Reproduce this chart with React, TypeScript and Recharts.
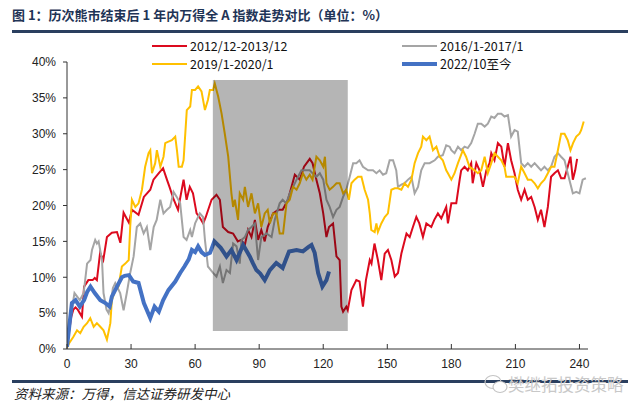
import React from "react";
import { LineChart, Line, XAxis, YAxis, ReferenceArea, Legend } from "recharts";

type Pt = [number, number];

// trading days since the bear-market low, cumulative return in %
const xTicks = [0, 30, 60, 90, 120, 150, 180, 210, 240];
const yTicks = [0, 5, 10, 15, 20, 25, 30, 35, 40];

const red2012: Pt[] = [
  [0, 0.3], [1, 2.5], [2, 4.5], [3, 5.5], [4, 5.8], [5, 5.5], [6, 5.0], [7, 4.5], [8, 8.7], [10, 9.6],
  [12, 9.6], [13, 9.9], [14, 9.6], [15.5, 13.4], [17, 12.4], [18.7, 15.6], [21, 16.2], [23.4, 16.3], [25, 14.8], [26.5, 19.0],
  [29, 17.6], [30.4, 19.4], [33.5, 18.7], [36, 21.2], [39, 22.2], [40.5, 23.6], [43, 24.5], [45, 25.2], [46.8, 23.6], [48, 22.6],
  [50, 20.8], [52, 19.4], [54.6, 23.6], [56, 20.8], [57.5, 22.6], [59, 21.7], [60.7, 18.9], [62, 18.4], [63.8, 17.5], [65, 18.4],
  [67.7, 20.8], [70, 21.5], [71.6, 20.8], [73, 17.0], [75.5, 16.3], [77.8, 16.1], [80, 15.0], [81.5, 15.2], [83.3, 14.5], [84.8, 16.6],
  [86.4, 15.6], [88, 18.0], [89.5, 15.2], [91, 16.6], [92.6, 15.0], [94, 17.0], [96.5, 18.9], [99, 19.4], [101, 19.4], [103.5, 20.8],
  [106.7, 24.3], [109, 23.6], [111, 25.4], [113.7, 26.5], [115, 25.9], [116.8, 23.6], [118.4, 21.7], [120, 18.9], [121.5, 15.6], [122.7, 17.0],
  [124.6, 17.5], [126.2, 12.9], [127.7, 12.4], [128.5, 5.9], [129.3, 5.2], [130.8, 5.9], [131.5, 5.4], [133.2, 8.2], [135.5, 9.6], [137, 9.4],
  [138.6, 5.9], [140, 9.6], [141.8, 12.4], [142.6, 11.9], [144, 14.7], [145.6, 12.4], [147.2, 9.6], [148.8, 13.3], [150.3, 13.8], [151.9, 12.4],
  [153.5, 10.1], [155, 10.6], [156.6, 13.3], [159, 16.1], [160.5, 15.6], [162, 17.0], [163.6, 18.4], [165, 17.5], [166.7, 15.6], [168.3, 17.5],
  [170.6, 17.0], [172, 18.0], [173.7, 18.9], [175.3, 18.2], [177.6, 19.8], [178.4, 17.5], [180, 20.3], [182.3, 20.3], [183.9, 23.6], [184.6, 24.9],
  [186.2, 25.4], [187.7, 24.9], [189.3, 25.9], [190, 23.1], [191.7, 25.9], [193.2, 24.9], [194.8, 22.6], [196.4, 24.9], [197.9, 25.9], [198.7, 27.3],
  [200.2, 26.3], [201.8, 28.7], [203.4, 28.2], [204.9, 25.4], [206.5, 28.7], [208, 26.3], [209.6, 24.5], [211.1, 22.2], [212.7, 20.8], [214.3, 22.2],
  [215.8, 20.8], [217.4, 21.2], [219, 19.8], [220.5, 18.0], [222, 19.4], [223.6, 17.0], [225.2, 19.8], [226.7, 24.0], [228.3, 24.5], [229.9, 24.9],
  [231.4, 23.8], [233, 23.8], [234.5, 25.4], [235.8, 26.8], [236.9, 23.6], [238, 24.9], [238.9, 26.5],
];

const gray2016: Pt[] = [
  [0, 0.5], [1, 3.1], [2, 5.0], [3.5, 7.8], [6, 6.8], [7.8, 7.8], [9.4, 11.9], [11, 12.4], [11.7, 13.8], [13.2, 15.2],
  [14, 14.7], [14.8, 15.0], [16.4, 12.4], [17.1, 7.8], [18.5, 5.5], [19.5, 5.0], [20.5, 6.5], [21.5, 8.5], [22.6, 9.2], [24.9, 7.8],
  [26.5, 5.4], [28, 7.8], [29.6, 10.6], [31.2, 12.9], [32.7, 17.0], [34.3, 17.5], [35.9, 16.1], [37.4, 17.0], [39, 13.8], [40.6, 17.0],
  [42, 18.0], [43.7, 20.8], [45.2, 18.9], [46.8, 19.4], [48.3, 19.8], [49.9, 21.9], [51.4, 21.2], [53, 20.3], [54.6, 15.6], [56, 15.2],
  [57.7, 16.6], [58.5, 15.6], [60, 17.5], [62.2, 18.9], [63.7, 18.4], [64.6, 15.2], [66, 11.5], [68.4, 10.6], [70, 10.1], [71.6, 11.5],
  [73, 9.2], [74.7, 11.0], [76.3, 10.6], [77.8, 14.7], [79.4, 14.3], [80.9, 11.9], [81.7, 15.2], [83.3, 15.6], [84.8, 16.6], [86.4, 17.0],
  [88, 17.5], [89.5, 12.4], [91, 15.6], [93.4, 16.1], [95.8, 15.6], [97.3, 18.0], [99.6, 20.3], [101, 20.8], [102.7, 20.3], [104.3, 21.7],
  [105.9, 22.6], [107.5, 23.6], [109.8, 24.9], [112.1, 24.9], [113.7, 24.9], [115, 24.5], [116.8, 24.0], [118.4, 24.5], [120, 23.6], [121.5, 20.8],
  [123, 19.8], [124.6, 18.4], [126.2, 19.4], [127.7, 19.8], [129.3, 21.2], [130.8, 22.2], [132.4, 24.0], [134, 25.9], [135.5, 25.9], [137, 26.3],
  [138.6, 25.4], [141, 24.9], [143.3, 24.9], [144.9, 24.5], [146.4, 24.9], [148, 24.3], [149.5, 24.5], [151.1, 26.3], [152.7, 26.3], [154.2, 24.9],
  [155, 22.6], [156.6, 22.9], [158.1, 23.1], [159.7, 23.6], [161.3, 24.0], [162.8, 21.7], [164.4, 22.6], [165.9, 24.9], [167.5, 25.9], [169.8, 25.9],
  [172.2, 26.3], [173.7, 26.8], [176, 27.0], [177.6, 28.4], [179.2, 28.2], [180, 27.7], [181.5, 27.3], [183.1, 28.2], [184.6, 27.7], [186.2, 28.2],
  [187.7, 28.0], [189.3, 28.7], [190.9, 30.0], [192.4, 31.4], [194, 31.4], [195.6, 31.0], [197.1, 31.4], [198.7, 32.4], [200.2, 32.2], [201.8, 32.8],
  [203.4, 32.8], [204.9, 32.4], [206.5, 32.6], [208, 29.6], [209.6, 30.5], [211.1, 30.3], [212.7, 25.9], [214.3, 25.4], [215.8, 25.9], [217.4, 25.4],
  [219, 25.9], [220.5, 25.4], [222, 24.9], [223.6, 25.4], [225.2, 24.9], [226.7, 25.4], [228.3, 26.8], [229.9, 27.3], [231.4, 26.8], [233, 26.3],
  [234.5, 24.5], [236.9, 21.7], [238.5, 21.9], [240, 21.7], [241.5, 23.6], [243, 23.8],
];

const gold2019: Pt[] = [
  [0, 0.2], [1, 0.8], [3, 1.7], [4.7, 2.6], [6.2, 2.2], [7.8, 3.1], [9.4, 3.6], [10.9, 4.3], [12.5, 3.1], [14, 3.6],
  [15.6, 3.1], [17.1, 2.6], [18.7, 1.3], [20.3, 3.6], [21, 6.8], [22.6, 8.2], [24.1, 8.7], [25.7, 11.5], [27.3, 11.9], [28.9, 12.4],
  [29.6, 17.0], [30.4, 20.8], [32, 19.8], [33.5, 20.3], [35.1, 22.2], [36.6, 25.4], [38.2, 27.3], [39, 27.7], [39.8, 24.5], [41.3, 25.9],
  [42.1, 27.7], [43.7, 25.4], [45.2, 26.8], [46, 28.7], [47.5, 28.9], [49.1, 29.1], [50.7, 29.6], [51.5, 27.7], [52.3, 25.4], [53.8, 25.4],
  [54.6, 26.3], [56.1, 33.3], [57.7, 33.8], [58.5, 36.1], [60, 36.1], [61.4, 36.6], [63, 35.9], [64.6, 33.3], [66, 34.7], [66.9, 36.1],
  [68.4, 36.1], [69.2, 37.0], [70.8, 35.2], [72.4, 32.8], [73.9, 30.0], [75.5, 26.8], [77, 21.7], [77.8, 19.8], [78.6, 20.8], [80.1, 18.0],
  [80.9, 21.7], [82.5, 20.8], [83.3, 22.6], [84.8, 19.8], [86.4, 21.7], [88, 18.9], [89.5, 20.3], [91, 17.0], [92.6, 18.9], [94, 19.4],
  [95, 17.5], [96.5, 18.9], [98.1, 18.9], [99.6, 16.1], [101.2, 16.1], [102.8, 20.3], [104.3, 20.8], [105.9, 22.6], [107.5, 22.2], [109, 23.1],
  [110.5, 24.5], [112.1, 23.6], [113.7, 24.3], [115, 23.6], [116.8, 26.8], [118.4, 26.3], [120, 25.4], [120.8, 26.8], [121.5, 23.1], [123, 22.2],
  [124.6, 22.6], [126.2, 23.1], [127.7, 23.1], [129.3, 21.7], [130.8, 22.2], [132, 20.8], [133.2, 23.1], [134.7, 23.6], [136.3, 24.0], [137.9, 24.0],
  [139.4, 22.2], [141, 20.8], [141.8, 18.9], [142.5, 16.6], [144.1, 16.3], [144.9, 17.5], [145.6, 16.3], [147.2, 17.5], [148.8, 18.4], [150.3, 18.9],
  [151.9, 22.2], [153.5, 22.4], [155, 22.4], [156.6, 22.2], [158.1, 23.1], [159.7, 22.6], [161.3, 23.6], [162.8, 25.9], [164.4, 27.3], [165.9, 28.2],
  [166.7, 29.6], [168.3, 29.1], [169.8, 29.6], [171.4, 27.7], [173, 28.2], [174.5, 26.8], [176, 26.3], [177.6, 24.9], [178.4, 24.5], [180, 23.6],
  [181.5, 24.5], [183.1, 25.9], [185.4, 27.7], [186.9, 26.8], [188.5, 25.4], [190.9, 24.9], [192.4, 24.5], [194, 24.9], [195.6, 26.8], [197.1, 24.5],
  [198.7, 25.9], [200.2, 27.3], [201.8, 26.8], [203.4, 26.3], [204.9, 25.4], [205.7, 24.0], [208, 24.0], [209.6, 24.0], [211.1, 23.1], [212.7, 25.4],
  [214.3, 24.5], [215.8, 23.6], [217.4, 23.6], [219, 23.1], [220.5, 22.4], [222, 23.1], [223.6, 23.6], [225.2, 24.5], [226.7, 25.4], [228.3, 25.4],
  [229.9, 27.7], [231.4, 30.0], [233, 30.0], [234.5, 29.1], [235.8, 27.7], [237, 28.7], [238.5, 29.6], [240, 30.0], [240.8, 30.5], [242, 31.7],
];

const blue2022: Pt[] = [
  [0, 0.3], [1, 3.0], [2.3, 6.4], [4, 6.8], [6, 5.9], [8, 6.8], [9.5, 8.0], [11, 8.7], [13, 7.8], [15.6, 6.8],
  [18, 6.4], [20, 5.9], [21, 7.3], [23.4, 8.7], [25.7, 10.0], [27, 10.2], [29, 10.3], [31, 9.4], [33.5, 9.2], [36, 6.4],
  [39, 4.3], [41, 5.9], [43, 5.2], [45, 6.8], [47.5, 8.2], [50.7, 9.4], [53, 10.6], [55, 11.5], [57, 12.5], [58.5, 13.8],
  [60, 13.5], [61.4, 14.3], [63, 13.5], [64.6, 13.1], [67, 13.4], [69, 15.0], [72, 14.1], [74.7, 12.9], [77, 13.8], [79.4, 12.4],
  [82.5, 14.5], [85.6, 12.9], [87, 12.0], [88.7, 11.0], [90.5, 10.5], [92.6, 9.6], [95, 11.0], [98, 12.0], [101, 11.3], [104, 13.6],
  [107.5, 13.8], [110.5, 13.6], [113, 14.2], [114.5, 14.5], [116, 13.4], [117.6, 10.6], [119.6, 8.7], [121.5, 9.6], [122.7, 10.8],
];

// shaded window (day range and % range)
const shadeDays = [68.3, 131.5];
const shadeRange = [2.5, 37.5];

const series = [
  { name: "2012/12-2013/12", data: red2012, color: "#dc0a1e", width: 2 },
  { name: "2016/1-2017/1", data: gray2016, color: "#a5a5a5", width: 2 },
  { name: "2019/1-2020/1", data: gold2019, color: "#ffc000", width: 2 },
  { name: "2022/10至今", data: blue2022, color: "#4472c4", width: 4 },
];

const cjk = '"Noto Sans CJK SC", "Noto Sans", sans-serif';
const latin = '"Liberation Sans", Arial, sans-serif';

const toRows = (pts: Pt[]) => pts.map(([d, v]) => ({ d, v }));

const XTick = (props: any) => {
  const { x, y, payload } = props;
  return (
    <g>
      <line x1={x} x2={x} y1={y} y2={y - 5} stroke="#333" />
      <text x={x} y={y + 19} textAnchor="middle" fontSize={12} fill="#222" fontFamily={latin}>
        {payload.value}
      </text>
    </g>
  );
};

const renderLegend = () => (
  <div style={{ position: "relative", width: 640, height: 36, fontFamily: cjk, fontSize: 12.5, lineHeight: "16px", color: "#111" }}>
    {series.map((s, i) => (
      <div
        key={s.name}
        style={{
          position: "absolute",
          left: i % 2 === 0 ? 152 : 402,
          top: i < 2 ? 0 : 18,
          height: 16,
          display: "flex",
          alignItems: "center",
          whiteSpace: "nowrap",
        }}
      >
        <span style={{ display: "inline-block", width: 35, height: s.width === 4 ? 4 : 2.5, background: s.color, marginRight: 3 }} />
        <span>{s.name}</span>
      </div>
    ))}
  </div>
);

const plotMargin = { top: 62, right: 52, bottom: 63, left: 67 };

export default function App() {
  return (
    <div style={{ position: "absolute", left: 0, top: 0, width: 640, height: 412, background: "#fff", overflow: "hidden" }}>
      <div
        style={{
          position: "absolute",
          left: 12,
          top: 5,
          fontFamily: cjk,
          fontSize: 13,
          fontWeight: 700,
          color: "#1f3456",
          whiteSpace: "pre",
        }}
      >
        图 1：历次熊市结束后 1 年内万得全 A 指数走势对比（单位：%）
      </div>
      <div style={{ position: "absolute", left: 12, top: 30, width: 616, height: 3, background: "#2a3f5f" }} />

      <div style={{ position: "absolute", left: 0, top: 0 }}>
        <LineChart width={640} height={412} margin={{ top: 62, right: 52, bottom: 43, left: 17 }}>
          <XAxis
            dataKey="d"
            type="number"
            domain={[0, 244]}
            ticks={xTicks}
            allowDataOverflow
            height={20}
            axisLine={{ stroke: "#333" }}
            tickLine={false}
            tickSize={0}
            tickMargin={0}
            tick={<XTick />}
            interval={0}
          />
          <YAxis
            type="number"
            domain={[0, 40]}
            ticks={yTicks}
            width={50}
            axisLine={{ stroke: "#333" }}
            tickLine={{ stroke: "#333" }}
            tickSize={4}
            tickMargin={7}
            tickFormatter={(v: number) => `${v}%`}
            tick={{ fontSize: 12, fill: "#222", fontFamily: latin }}
            interval={0}
          />
          <Legend
            layout="horizontal"
            verticalAlign="middle"
            align="center"
            content={renderLegend}
            wrapperStyle={{ left: 0, top: 38, width: 640, height: 36 }}
          />
          {series.map((s) => (
            <Line
              key={s.name}
              data={toRows(s.data)}
              dataKey="v"
              name={s.name}
              type="linear"
              stroke={s.color}
              strokeWidth={s.width}
              dot={false}
              activeDot={false}
              isAnimationActive={false}
            />
          ))}
        </LineChart>
      </div>

      {/* translucent window laid over the lines, same scales as the chart below */}
      <div style={{ position: "absolute", left: 0, top: 0, pointerEvents: "none" }}>
        <LineChart width={640} height={412} margin={plotMargin} data={toRows(gray2016)}>
          <XAxis dataKey="d" type="number" domain={[0, 244]} allowDataOverflow hide />
          <YAxis type="number" domain={[0, 40]} allowDataOverflow hide />
          <ReferenceArea
            x1={shadeDays[0]}
            x2={shadeDays[1]}
            y1={shadeRange[0]}
            y2={shadeRange[1]}
            fill="#000"
            fillOpacity={0.29}
            stroke="none"
            ifOverflow="visible"
          />
        </LineChart>
      </div>

      <div style={{ position: "absolute", left: 12, top: 380, width: 616, height: 3, background: "#2a3f5f" }} />
      <div
        style={{
          position: "absolute",
          left: 14,
          top: 383,
          fontFamily: cjk,
          fontSize: 13.5,
          fontStyle: "italic",
          color: "#222",
        }}
      >
        资料来源：万得，信达证券研发中心
      </div>
      <svg style={{ position: "absolute", left: 484, top: 374 }} width={26} height={22}>
        <ellipse cx={9} cy={8} rx={8} ry={6.5} fill="none" stroke="#c4c4c4" strokeWidth={1.2} />
        <ellipse cx={16} cy={13} rx={7} ry={5.5} fill="#fff" stroke="#c4c4c4" strokeWidth={1.2} />
      </svg>
      <div
        style={{
          position: "absolute",
          left: 508,
          top: 372,
          fontFamily: cjk,
          fontSize: 16.5,
          color: "#c8c8c8",
          whiteSpace: "nowrap",
        }}
      >
        樊继拓投资策略
      </div>
    </div>
  );
}
